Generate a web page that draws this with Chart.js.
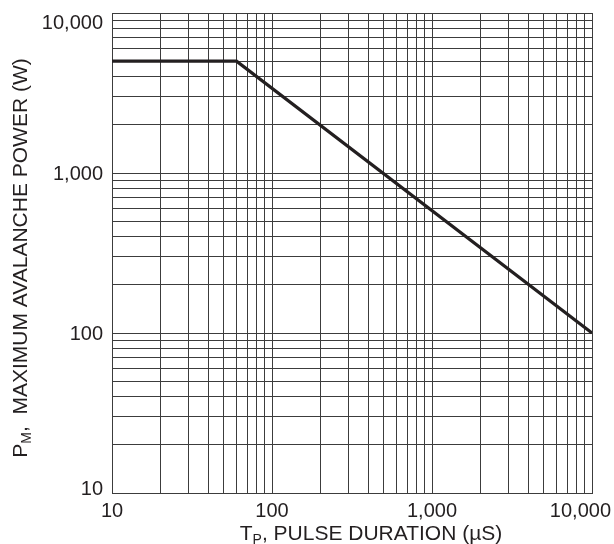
<!DOCTYPE html>
<html lang="en">
<head>
<meta charset="UTF-8">
<title>Maximum Avalanche Power vs Pulse Duration</title>
<script src="https://cdn.jsdelivr.net/npm/chart.js"></script>
<style>
    body { margin: 0; background: #fff; }
    canvas { display: block; }
</style>
</head>
<body>
<canvas id="powerChart" width="614" height="544"></canvas>
<script>
// curve: flat at 5 kW, knee near 60 us, 100 W at 10 ms
const pulseDuration = [10, 60, 10000];   // us
const maxPower = [5000, 5000, 100];      // W

// log grid: decades times 1..9, plus the top decade
const xDecades = [10, 100, 1000];
const yDecades = [10, 100, 1000];
const gridSteps = [1, 2, 3, 4, 5, 6, 7, 8, 9];
const xLabelValues = [10, 100, 1000, 10000];
const xLabels = ['10', '100', '1,000', '10,000'];
const yLabelValues = [10, 100, 1000, 10000];
const yLabels = ['10', '100', '1,000', '10,000'];

const gridColor = '#3c3c3c';
const inkColor = '#231f20';
const fontFamily = '"Liberation Sans", Arial, sans-serif';

function gridValues(decades) {
    const vals = [];
    decades.forEach(d => gridSteps.forEach(s => vals.push(d * s)));
    vals.push(decades[decades.length - 1] * 10);
    return vals;
}
const xGrid = gridValues(xDecades);
const yGrid = gridValues(yDecades);

// text with a subscript piece: parts = [[text, isSub], ...]
function drawSubText(ctx, parts, cx, base) {
    const big = '21px ' + fontFamily;
    const small = '14px ' + fontFamily;
    let total = 0;
    parts.forEach(p => {
        ctx.font = p[1] ? small : big;
        total += ctx.measureText(p[0]).width;
    });
    let xpos = cx - total / 2;
    ctx.textAlign = 'left';
    ctx.textBaseline = 'alphabetic';
    parts.forEach(p => {
        ctx.font = p[1] ? small : big;
        ctx.fillText(p[0], xpos, p[1] ? base + 4 : base);
        xpos += ctx.measureText(p[0]).width;
    });
}

const labelPlugin = {
    id: 'axisText',
    afterDraw(chart) {
        const { ctx, chartArea, scales } = chart;
        const x = scales.x, y = scales.y;
        ctx.save();
        ctx.fillStyle = inkColor;
        ctx.font = '20px ' + fontFamily;
        ctx.textBaseline = 'alphabetic';

        // y tick labels, kept inside the frame at the ends
        ctx.textAlign = 'right';
        yLabelValues.forEach((v, i) => {
            let base = y.getPixelForValue(v) + 7;
            base = Math.min(Math.max(base, chartArea.top + 16), chartArea.bottom + 2);
            ctx.fillText(yLabels[i], chartArea.left - 9, base);
        });

        // x tick labels, last one pulled in from the canvas edge
        ctx.textAlign = 'center';
        xLabelValues.forEach((v, i) => {
            const w = ctx.measureText(xLabels[i]).width;
            let cx = x.getPixelForValue(v);
            cx = Math.min(cx, chart.width - 3 - w / 2);
            ctx.fillText(xLabels[i], cx, chartArea.bottom + 24);
        });

        // axis titles
        drawSubText(ctx, [['T', 0], ['P', 1], [', PULSE DURATION (\u00B5S)', 0]], 371, 540);
        ctx.translate(27, 258);
        ctx.rotate(-Math.PI / 2);
        drawSubText(ctx, [['P', 0], ['M', 1], [',  MAXIMUM AVALANCHE POWER (W)', 0]], 0, 0);
        ctx.restore();
    }
};

const ctx = document.getElementById('powerChart').getContext('2d');
const powerChart = new Chart(ctx, {
    type: 'scatter',
    data: {
        datasets: [{
            data: pulseDuration.map((t, i) => ({ x: t, y: maxPower[i] })),
            showLine: true,
            borderColor: inkColor,
            borderWidth: 3.2,
            pointRadius: 0,
            tension: 0
        }]
    },
    options: {
        responsive: false,
        animation: false,
        layout: { padding: { left: 0, top: 13, right: 22, bottom: 0 } },
        plugins: { legend: { display: false }, tooltip: { enabled: false } },
        scales: {
            x: {
                type: 'logarithmic',
                min: 10,
                max: 10000,
                afterBuildTicks: s => { s.ticks = xGrid.map(v => ({ value: v })); },
                afterFit: s => { s.height = 51; s.paddingLeft = 0; s.paddingRight = 0; },
                ticks: { display: false },
                grid: { color: gridColor, lineWidth: 1, drawTicks: false },
                border: { color: gridColor, width: 1 }
            },
            y: {
                type: 'logarithmic',
                min: 10,
                max: 10000,
                afterBuildTicks: s => { s.ticks = yGrid.map(v => ({ value: v })); },
                afterFit: s => { s.width = 112; s.paddingTop = 0; s.paddingBottom = 0; },
                ticks: { display: false },
                grid: { color: gridColor, lineWidth: 1, drawTicks: false },
                border: { color: gridColor, width: 1 }
            }
        }
    },
    plugins: [labelPlugin]
});
</script>
</body>
</html>
